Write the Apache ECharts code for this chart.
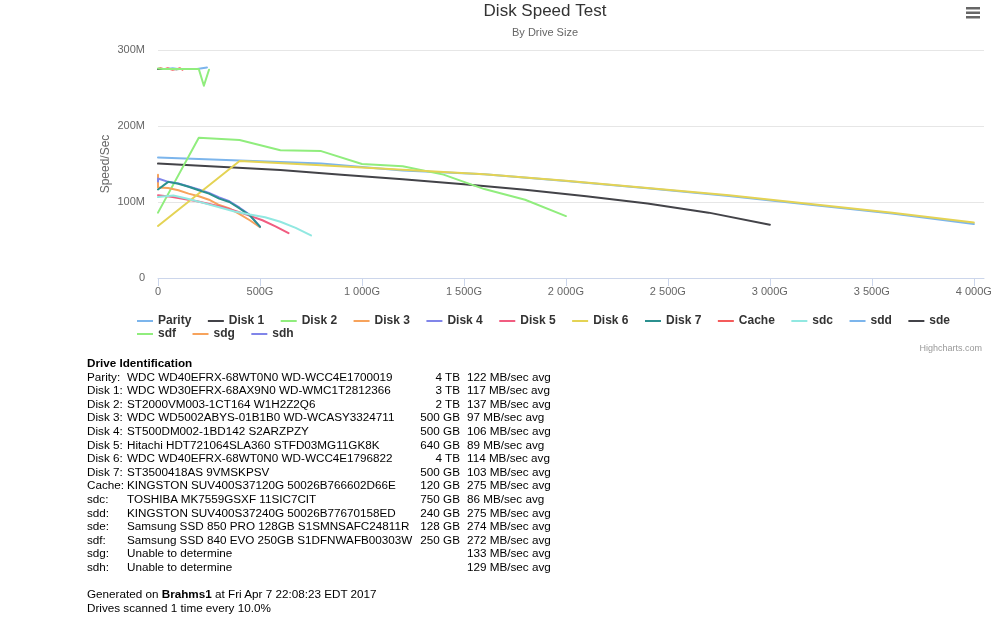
<!DOCTYPE html>
<html>
<head>
<meta charset="utf-8">
<script src="https://cdn.jsdelivr.net/npm/echarts@6/dist/echarts.min.js"></script>
<style>
  html, body { margin: 0; padding: 0; background: #fff; }
  #chart { position: absolute; left: 0; top: 0; width: 1000px; height: 620px; }
  #info { position: absolute; left: 87px; top: 356px; font-family: "Liberation Sans", Arial, Helvetica, sans-serif; font-size: 11.7px; color: #000; line-height: 13.6px; z-index: 2; }
  #info table { border-collapse: collapse; table-layout: fixed; width: 480px; }
  #info td { padding: 0; height: 13.6px; line-height: 13.6px; white-space: nowrap; vertical-align: middle; overflow: visible; }
  #info col.c1 { width: 40px; }
  #info col.c2 { width: 288px; }
  #info col.c3 { width: 45px; }
  #info col.c4 { width: 107px; }
  #info td.c3 { text-align: right; }
  #info td.c4 { padding-left: 7px; }
  #info .line { height: 13.6px; }
</style>
</head>
<body>
<div id="chart"></div>
<div id="info"></div>
<script>
// ---------- data ----------
const PCT = [0, 10, 20, 30, 40, 50, 60, 70, 80, 90, 100];   // scan points, % of drive
const SERIES_NAMES = ['Parity', 'Disk 1', 'Disk 2', 'Disk 3', 'Disk 4', 'Disk 5', 'Disk 6', 'Disk 7', 'Cache', 'sdc', 'sdd', 'sde', 'sdf', 'sdg', 'sdh'];
const SIZES_GB = [4000, 3000, 2000, 500, 500, 640, 4000, 500, 120, 750, 240, 128, 250, 0, 0];

const PARITY = [158.5, 154.5, 150.5, 141.5, 136.5, 127.5, 118, 108, 96.5, 85, 71];
const DISK1  = [150.5, 146.5, 142, 136, 130, 123.5, 116, 107.5, 98, 86, 70];
const DISK2  = [86, 184.5, 181.5, 168, 167, 150, 147, 136, 117, 103, 81.5];
const DISK3  = [119, 118.5, 115.5, 111, 107.5, 103, 96, 91.5, 84, 76, 67];
const DISK4  = [131, 126.5, 124.5, 120.5, 116.5, 112, 106, 101, 92.5, 83, 67.5];
const DISK5  = [109, 107, 104, 101, 97, 93, 88, 82, 76, 68, 59];
const DISK6  = [68.5, 154, 148.5, 142.5, 136.5, 128, 118.5, 109, 97.5, 86, 73];
const DISK7  = [116.5, 126.5, 124, 120, 115.5, 111, 104.5, 100, 91.5, 82.5, 67.5];
const CACHE  = [275, 276, 275, 275, 276, 275, 274, 275, 275, 276, 274];
const SDC    = [106.5, 108.5, 104, 98.5, 93, 87.5, 83.5, 80, 74, 66, 56];
const SDD    = [275, 275, 275, 276, 275, 275, 275, 275, 275, 276, 277];
const SDE    = [275, 275, 275, 275, 275, 275, 275, 274.5, 275, 275, 275];
const SDF    = [275.5, 275, 275, 275, 275, 275, 275, 275, 275, 253, 274];
const SDG    = [136, 135, 135, 134, 134, 134, 133, 133, 132, 131, 120];
const SDH    = [131, 130, 130, 129, 129, 129, 129, 128, 128, 128, 127];
const SPEEDS = [PARITY, DISK1, DISK2, DISK3, DISK4, DISK5, DISK6, DISK7, CACHE, SDC, SDD, SDE, SDF, SDG, SDH];

const X_TICKS = [0, 500, 1000, 1500, 2000, 2500, 3000, 3500, 4000];
const Y_TICKS = [0, 100, 200, 300];

const LEGEND_ROW1 = SERIES_NAMES.slice(0, 12);
const LEGEND_ROW2 = SERIES_NAMES.slice(12);

// drive identification table
const ID_LABELS = ['Parity:', 'Disk 1:', 'Disk 2:', 'Disk 3:', 'Disk 4:', 'Disk 5:', 'Disk 6:', 'Disk 7:', 'Cache:', 'sdc:', 'sdd:', 'sde:', 'sdf:', 'sdg:', 'sdh:'];
const ID_MODELS = [
  'WDC WD40EFRX-68WT0N0 WD-WCC4E1700019',
  'WDC WD30EFRX-68AX9N0 WD-WMC1T2812366',
  'ST2000VM003-1CT164 W1H2Z2Q6',
  'WDC WD5002ABYS-01B1B0 WD-WCASY3324711',
  'ST500DM002-1BD142 S2ARZPZY',
  'Hitachi HDT721064SLA360 STFD03MG11GK8K',
  'WDC WD40EFRX-68WT0N0 WD-WCC4E1796822',
  'ST3500418AS 9VMSKPSV',
  'KINGSTON SUV400S37120G 50026B766602D66E',
  'TOSHIBA MK7559GSXF 11SIC7CIT',
  'KINGSTON SUV400S37240G 50026B77670158ED',
  'Samsung SSD 850 PRO 128GB S1SMNSAFC24811R',
  'Samsung SSD 840 EVO 250GB S1DFNWAFB00303W',
  'Unable to determine',
  'Unable to determine'
];
const ID_SIZES = ['4 TB', '3 TB', '2 TB', '500 GB', '500 GB', '640 GB', '4 TB', '500 GB', '120 GB', '750 GB', '240 GB', '128 GB', '250 GB', '', ''];
const ID_AVG = [122, 117, 137, 97, 106, 89, 114, 103, 275, 86, 275, 274, 272, 133, 129];
const HOST = 'Brahms1';
const GEN_DATE = 'Fri Apr 7 22:08:23 EDT 2017';

// ---------- styles ----------
const COLORS = ['#7cb5ec', '#434348', '#90ed7d', '#f7a35c', '#8085e9', '#f15c80', '#e4d354', '#2b908f', '#f45b5b', '#91e8e1',
                '#7cb5ec', '#434348', '#90ed7d', '#f7a35c', '#8085e9'];
const FONT = '"Liberation Sans", Arial, Helvetica, sans-serif';

function fmtG(v) {
  if (v === 0) return '0';
  const s = String(v).replace(/\B(?=(\d{3})+(?!\d))/g, ' ');
  return s + 'G';
}

const series = SERIES_NAMES.map((name, k) => ({
  name: name,
  type: 'line',
  color: COLORS[k],
  showSymbol: false,
  symbol: 'none',
  lineStyle: { width: 2, color: COLORS[k], cap: 'round', join: 'round' },
  emphasis: { disabled: true },
  data: PCT.map((p, i) => [SIZES_GB[k] * p / 100, SPEEDS[k][i]])
}));

const legendBase = {
  left: 137,
  padding: 0,
  orient: 'horizontal',
  icon: 'rect',
  itemWidth: 16,
  itemHeight: 2,
  itemGap: 16.5,
  textStyle: { fontFamily: FONT, fontSize: 12, fontWeight: 'bold', color: '#333' }
};

const chart = echarts.init(document.getElementById('chart'), null, { renderer: 'canvas' });
chart.setOption({
  animation: false,
  backgroundColor: '#fff',
  textStyle: { fontFamily: FONT },
  title: [
    { text: 'Disk Speed Test', left: 540, top: -2, textAlign: 'center',
      textStyle: { fontFamily: FONT, fontSize: 17, fontWeight: 'normal', color: '#333' } },
    { text: 'By Drive Size', left: 540, top: 22, textAlign: 'center',
      textStyle: { fontFamily: FONT, fontSize: 11, fontWeight: 'normal', color: '#666' } }
  ],
  grid: { left: 158, right: 16, top: 50, bottom: 342, containLabel: false },
  xAxis: {
    type: 'value', min: 0, max: 4050, interval: 500,
    axisLine: { show: true, lineStyle: { color: '#ccd6eb', width: 1 } },
    axisTick: { show: true, length: 8, lineStyle: { color: '#ccd6eb' }, customValues: X_TICKS },
    axisLabel: { color: '#666', fontSize: 11, margin: 8, customValues: X_TICKS, formatter: fmtG },
    splitLine: { show: false }
  },
  yAxis: {
    type: 'value', min: 0, max: 300, interval: 100,
    name: 'Speed/Sec', nameLocation: 'middle', nameGap: 46, nameMoveOverlap: false,
    nameTextStyle: { color: '#666', fontSize: 12, fontFamily: FONT },
    axisLine: { show: false },
    axisTick: { show: false },
    axisLabel: { color: '#666', fontSize: 11, margin: 13, customValues: Y_TICKS,
      formatter: v => (v === 0 ? '0' : v + 'M') },
    splitLine: { show: true, lineStyle: { color: '#e6e6e6', width: 1 } }
  },
  legend: [
    Object.assign({}, legendBase, { top: 315, data: LEGEND_ROW1 }),
    Object.assign({}, legendBase, { top: 328, data: LEGEND_ROW2 })
  ],
  graphic: [
    { type: 'rect', left: 966, top: 7, shape: { width: 14, height: 2.5 }, style: { fill: '#666' } },
    { type: 'rect', left: 966, top: 11.5, shape: { width: 14, height: 2.5 }, style: { fill: '#666' } },
    { type: 'rect', left: 966, top: 16, shape: { width: 14, height: 2.5 }, style: { fill: '#666' } },
    { type: 'text', right: 18, top: 344, style: { text: 'Highcharts.com', fill: '#999', font: '9px ' + FONT } }
  ],
  series: series
});

// ---------- drive identification text ----------
let html = '<table><colgroup><col class="c1"><col class="c2"><col class="c3"><col class="c4"></colgroup>' +
           '<tr><td colspan="4"><b>Drive Identification</b></td></tr>';
for (let i = 0; i < ID_LABELS.length; i++) {
  html += '<tr><td class="c1">' + ID_LABELS[i] + '</td><td class="c2">' + ID_MODELS[i] +
          '</td><td class="c3">' + ID_SIZES[i] + '</td><td class="c4">' + ID_AVG[i] + ' MB/sec avg</td></tr>';
}
html += '</table>';
html += '<div class="line"></div>';
html += '<div>Generated on <b>' + HOST + '</b> at ' + GEN_DATE + '</div>';
html += '<div>Drives scanned 1 time every 10.0%</div>';
document.getElementById('info').innerHTML = html;
</script>
</body>
</html>
